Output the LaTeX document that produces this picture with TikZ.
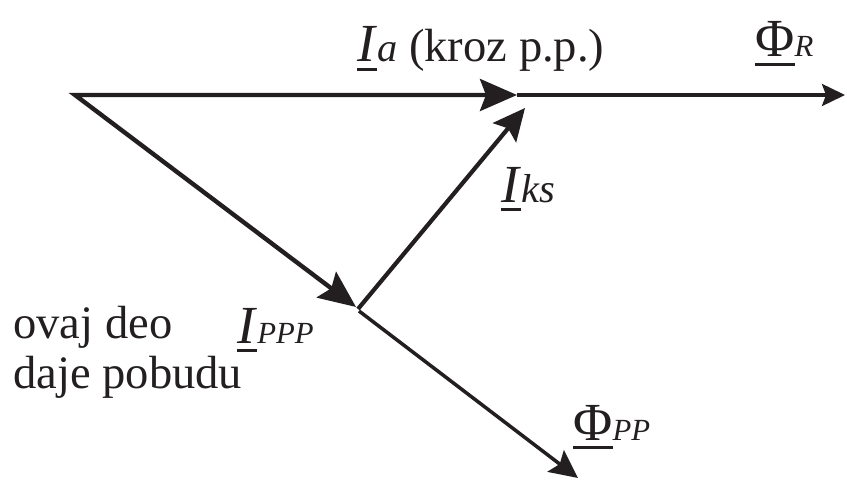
\documentclass[tikz,border=0pt]{standalone}
\usepackage{fontspec}
\setmainfont{Liberation Serif}
\usepackage{tikz}
\usetikzlibrary{arrows.meta,positioning,calc}
\definecolor{ink}{RGB}{35,31,32}
\newcommand{\vecsym}[1]{{\fontsize{30.5}{34}\selectfont
  \setbox0\hbox{#1}\rlap{\rule[-0.17em]{\wd0}{0.06em}}\box0}}
\newcommand{\subbig}[1]{{\fontsize{23}{26}\selectfont\itshape #1}}
\newcommand{\subsmall}[1]{{\fontsize{17.5}{20}\selectfont\itshape #1}}
\tikzset{
  txt/.style={anchor=base west, inner sep=0pt, text=ink,
    font=\fontsize{26.5}{30}\selectfont},
  mainvec/.style={draw=ink, line width=2.5pt, line join=miter,
    {Stealth[length=7.4mm, width=6.4mm, inset=1.2mm]}-{Stealth[length=7.4mm, width=6.4mm, inset=1.2mm]}},
  ksvec/.style={draw=ink, line width=2.4pt,
    -{Stealth[length=6.4mm, width=6mm, inset=1.1mm]}},
  fluxvec/.style={draw=ink, line width=2pt,
    -{Stealth[length=5.6mm, width=5.4mm, inset=1mm]}},
  rvec/.style={draw=ink, line width=2pt,
    -{Stealth[length=4.6mm, width=4.4mm, inset=0.8mm]}}
}

\begin{document}
\begin{tikzpicture}[x=0.02cm, y=-0.02cm]
  \useasboundingbox (0,0) rectangle (847,486);
  % vertices of the phasor diagram
  \coordinate (o) at (75,95);
  \coordinate (a) at (517,95);
  \coordinate (r) at (845,95);
  \coordinate (p) at (358,309);
  \coordinate (k) at (525,108);
  \coordinate (f) at (578,478);
  % labels
  \node[txt] (ia) at (357,62) {\vecsym{\itshape I\/}\subbig{a} (kroz p.p.)};
  \node[txt] (phir) at (755,57) {\vecsym{Φ}\subsmall{R}};
  \node[txt] (iks) at (501,202) {\vecsym{\itshape I\/}\subbig{ks}};
  \node[txt] (ippp) at (237,343) {\vecsym{\itshape I\/}\subsmall{PPP}};
  \node[txt] (phipp) at (573,440) {\vecsym{Φ}\subsmall{PP}};
  \node[txt] (ovaj) at (13,338) {ovaj deo};
  \node[txt] (daje) at (13,388) {daje pobudu};
  % vectors
  \draw[mainvec] (a) -- (o) -- ($(p)+(-2,-2)$);
  \draw[rvec] (a) -- (r);
  \draw[ksvec] (p) -- (k);
  \draw[fluxvec] ($(p)+(1,2)$) -- (f);
\end{tikzpicture}
\end{document}
